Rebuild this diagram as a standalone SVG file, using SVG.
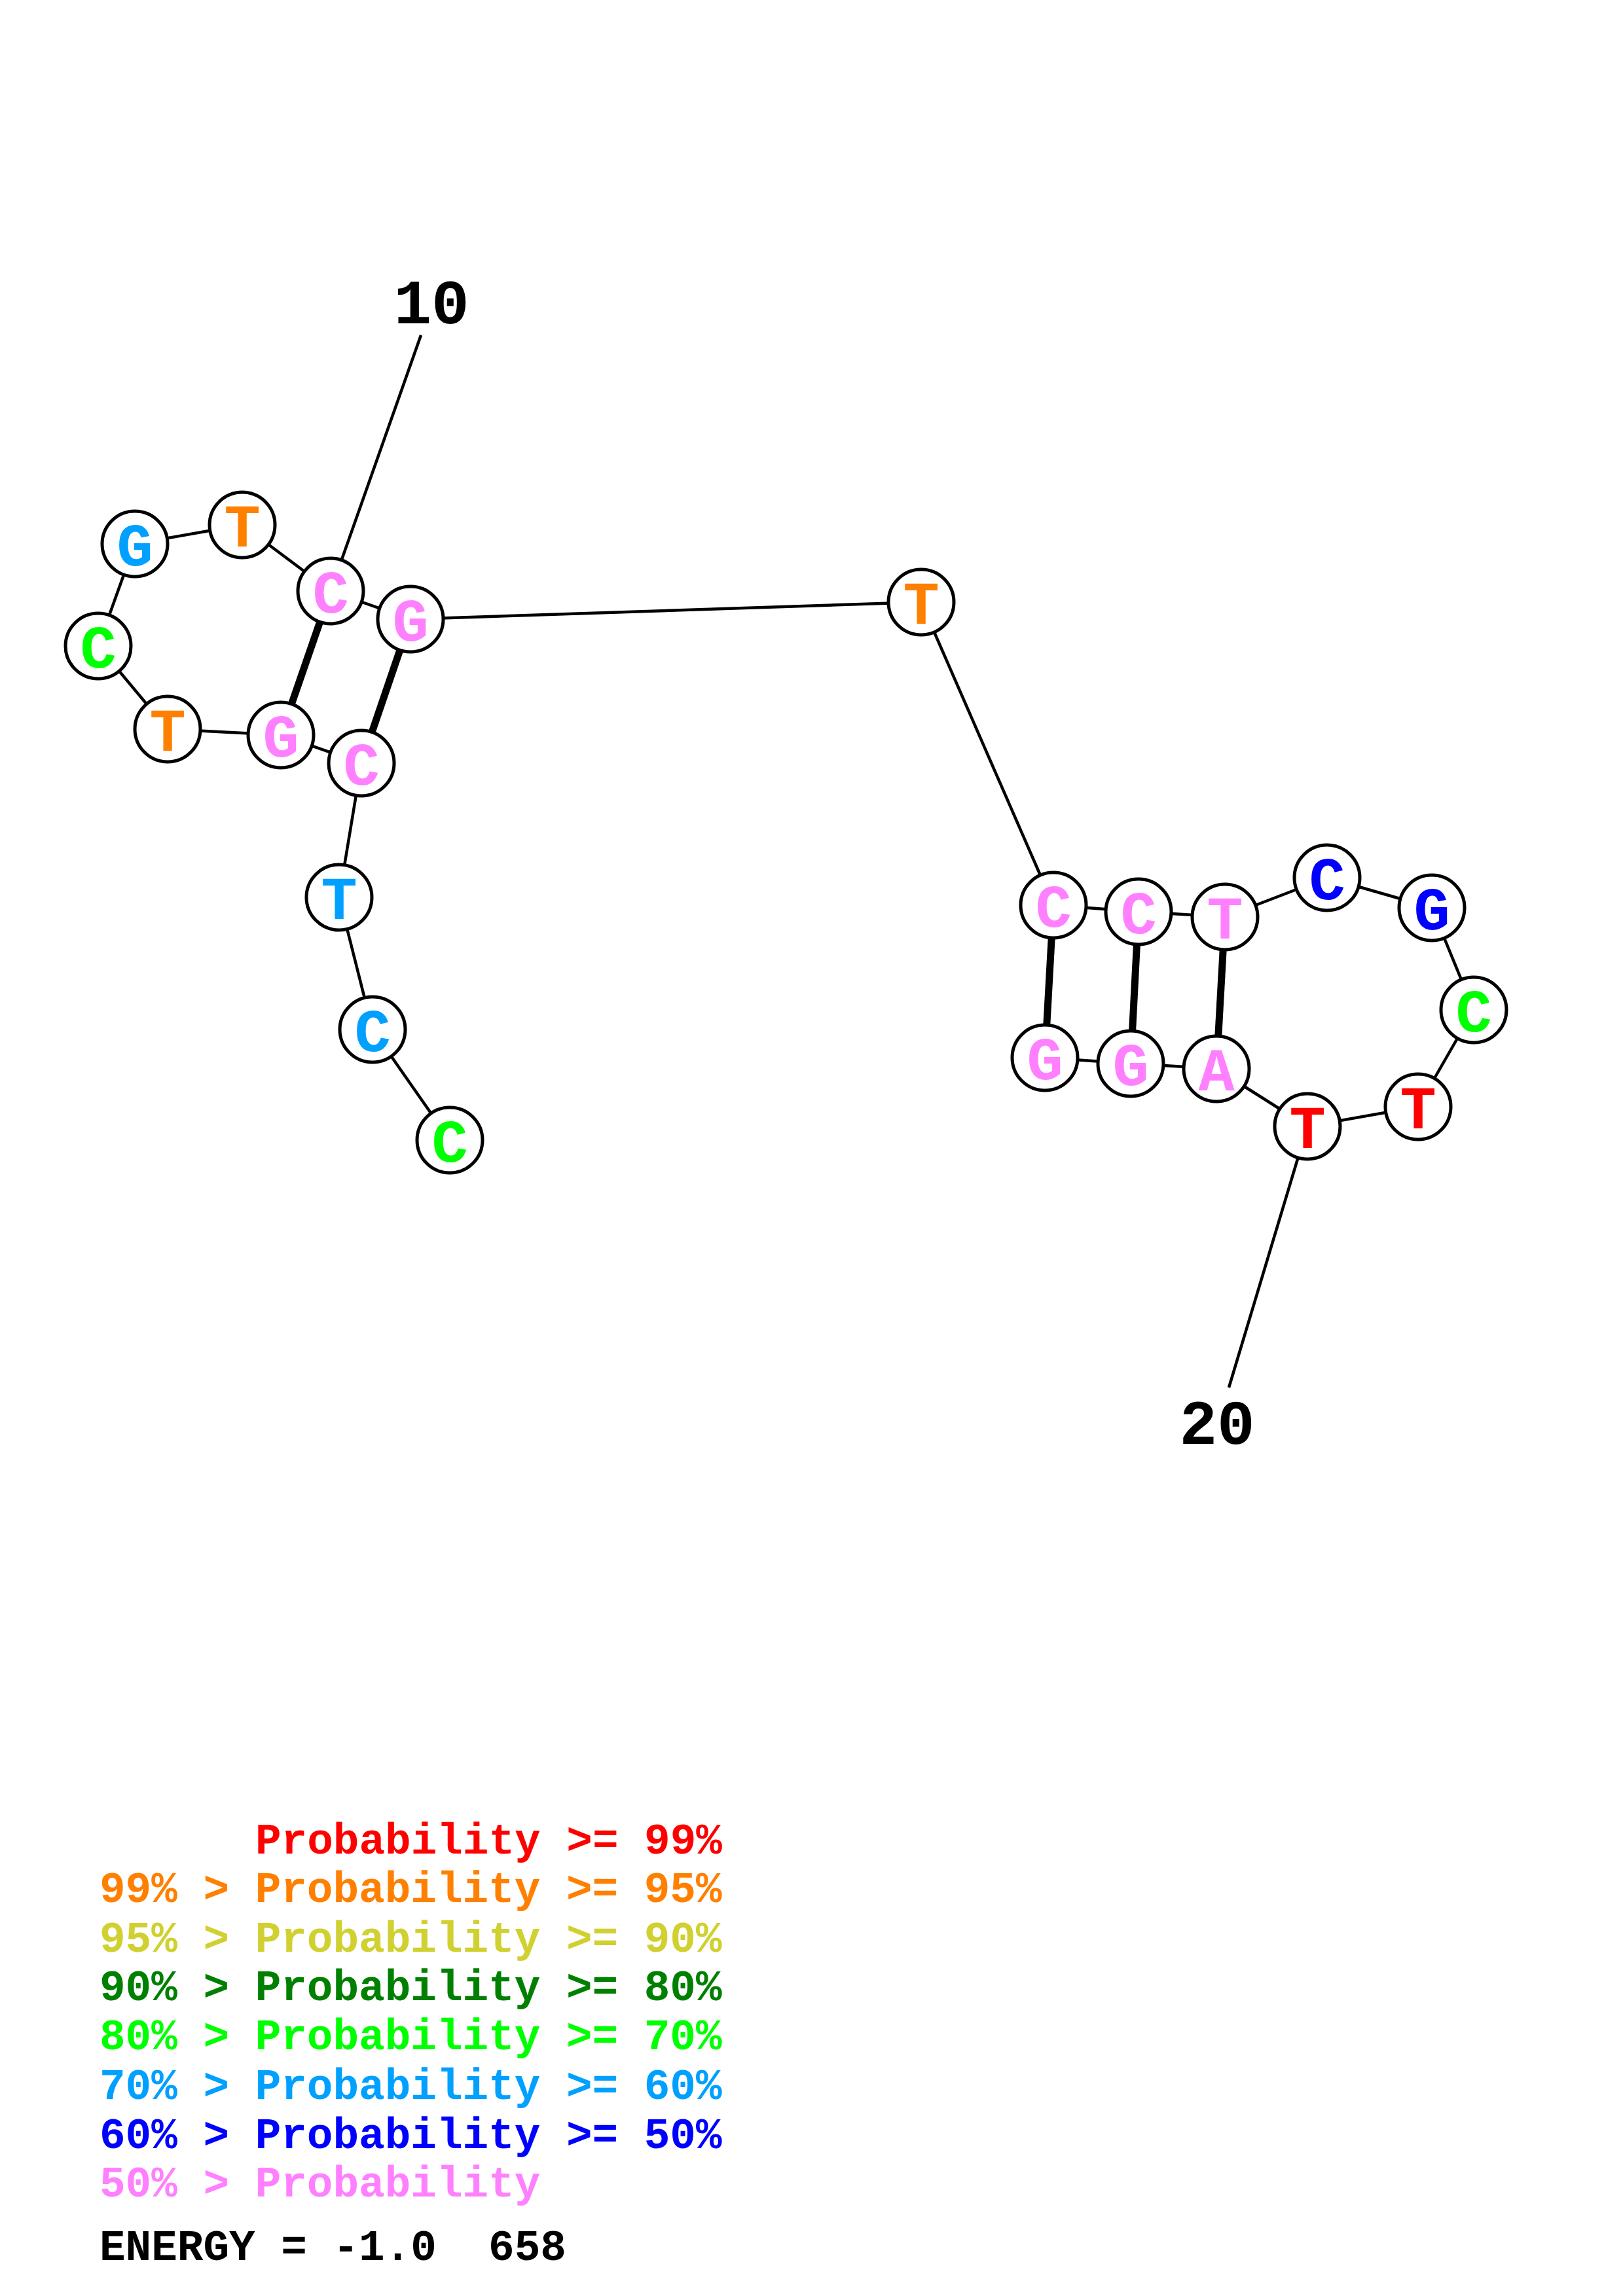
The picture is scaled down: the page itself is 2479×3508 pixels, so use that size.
<svg xmlns="http://www.w3.org/2000/svg" width="2479" height="3508" viewBox="0 0 2479 3508">
<style>
.bb{stroke:#000;stroke-width:4.5;fill:none}
.bp{stroke:#000;stroke-width:11}
.nd{fill:#fff;stroke:#000;stroke-width:5}
.nt{font-family:"Liberation Mono",monospace;font-weight:bold;font-size:92px;text-anchor:middle}
.lbl{font-family:"Liberation Mono",monospace;font-weight:bold;font-size:96px;text-anchor:middle;fill:#000}
.lg{font-family:"Liberation Mono",monospace;font-weight:bold;font-size:66px}
.red{fill:#FF0000}.org{fill:#FF8000}.yel{fill:#D0D030}.dgr{fill:#008000}.grn{fill:#00FF00}.lbu{fill:#00A0FF}.blu{fill:#0000FF}.pnk{fill:#FF80FF}.blk{fill:#000}
</style>
<rect width="2479" height="3508" fill="#fff"/>
<g id="connectors">
<line class="bb" x1="643" y1="512" x2="505" y2="903"/>
<line class="bb" x1="1877" y1="2120" x2="1997" y2="1721"/>
<line class="bb" x1="687" y1="1742" x2="569" y2="1573"/>
<line class="bb" x1="569" y1="1573" x2="518" y2="1371"/>
<line class="bb" x1="518" y1="1371" x2="552" y2="1166"/>
<line class="bb" x1="552" y1="1166" x2="429" y2="1123"/>
<line class="bb" x1="429" y1="1123" x2="256" y2="1114"/>
<line class="bb" x1="256" y1="1114" x2="150" y2="987"/>
<line class="bb" x1="150" y1="987" x2="206" y2="831"/>
<line class="bb" x1="206" y1="831" x2="370" y2="802"/>
<line class="bb" x1="370" y1="802" x2="505" y2="903"/>
<line class="bb" x1="505" y1="903" x2="627" y2="946"/>
<line class="bb" x1="627" y1="946" x2="1407" y2="920"/>
<line class="bb" x1="1407" y1="920" x2="1609" y2="1383"/>
<line class="bb" x1="1609" y1="1383" x2="1739" y2="1393"/>
<line class="bb" x1="1739" y1="1393" x2="1871" y2="1401"/>
<line class="bb" x1="1871" y1="1401" x2="2027" y2="1341"/>
<line class="bb" x1="2027" y1="1341" x2="2187" y2="1387"/>
<line class="bb" x1="2187" y1="1387" x2="2251" y2="1543"/>
<line class="bb" x1="2251" y1="1543" x2="2166" y2="1691"/>
<line class="bb" x1="2166" y1="1691" x2="1997" y2="1721"/>
<line class="bb" x1="1997" y1="1721" x2="1858" y2="1633"/>
<line class="bb" x1="1858" y1="1633" x2="1727" y2="1625"/>
<line class="bb" x1="1727" y1="1625" x2="1596" y2="1616"/>
<line class="bp" x1="505" y1="903" x2="429" y2="1123"/>
<line class="bp" x1="627" y1="946" x2="552" y2="1166"/>
<line class="bp" x1="1609" y1="1383" x2="1596" y2="1616"/>
<line class="bp" x1="1739" y1="1393" x2="1727" y2="1625"/>
<line class="bp" x1="1871" y1="1401" x2="1858" y2="1633"/>
</g>
<g id="n1"><circle class="nd" cx="687" cy="1742" r="50"/><text class="nt grn" x="687" y="1775">C</text></g>
<g id="n2"><circle class="nd" cx="569" cy="1573" r="50"/><text class="nt lbu" x="569" y="1606">C</text></g>
<g id="n3"><circle class="nd" cx="518" cy="1371" r="50"/><text class="nt lbu" x="518" y="1404">T</text></g>
<g id="n4"><circle class="nd" cx="552" cy="1166" r="50"/><text class="nt pnk" x="552" y="1199">C</text></g>
<g id="n5"><circle class="nd" cx="429" cy="1123" r="50"/><text class="nt pnk" x="429" y="1156">G</text></g>
<g id="n6"><circle class="nd" cx="256" cy="1114" r="50"/><text class="nt org" x="256" y="1147">T</text></g>
<g id="n7"><circle class="nd" cx="150" cy="987" r="50"/><text class="nt grn" x="150" y="1020">C</text></g>
<g id="n8"><circle class="nd" cx="206" cy="831" r="50"/><text class="nt lbu" x="206" y="864">G</text></g>
<g id="n9"><circle class="nd" cx="370" cy="802" r="50"/><text class="nt org" x="370" y="835">T</text></g>
<g id="n10"><circle class="nd" cx="505" cy="903" r="50"/><text class="nt pnk" x="505" y="936">C</text></g>
<g id="n11"><circle class="nd" cx="627" cy="946" r="50"/><text class="nt pnk" x="627" y="979">G</text></g>
<g id="n12"><circle class="nd" cx="1407" cy="920" r="50"/><text class="nt org" x="1407" y="953">T</text></g>
<g id="n13"><circle class="nd" cx="1609" cy="1383" r="50"/><text class="nt pnk" x="1609" y="1416">C</text></g>
<g id="n14"><circle class="nd" cx="1739" cy="1393" r="50"/><text class="nt pnk" x="1739" y="1426">C</text></g>
<g id="n15"><circle class="nd" cx="1871" cy="1401" r="50"/><text class="nt pnk" x="1871" y="1434">T</text></g>
<g id="n16"><circle class="nd" cx="2027" cy="1341" r="50"/><text class="nt blu" x="2027" y="1374">C</text></g>
<g id="n17"><circle class="nd" cx="2187" cy="1387" r="50"/><text class="nt blu" x="2187" y="1420">G</text></g>
<g id="n18"><circle class="nd" cx="2251" cy="1543" r="50"/><text class="nt grn" x="2251" y="1576">C</text></g>
<g id="n19"><circle class="nd" cx="2166" cy="1691" r="50"/><text class="nt red" x="2166" y="1724">T</text></g>
<g id="n20"><circle class="nd" cx="1997" cy="1721" r="50"/><text class="nt red" x="1997" y="1754">T</text></g>
<g id="n21"><circle class="nd" cx="1858" cy="1633" r="50"/><text class="nt pnk" x="1858" y="1666">A</text></g>
<g id="n22"><circle class="nd" cx="1727" cy="1625" r="50"/><text class="nt pnk" x="1727" y="1658">G</text></g>
<g id="n23"><circle class="nd" cx="1596" cy="1616" r="50"/><text class="nt pnk" x="1596" y="1649">G</text></g>
<g id="labels">
<text class="lbl" x="659" y="494">10</text>
<text class="lbl" x="1859" y="2206">20</text>
</g>
<g id="legend">
<text class="lg red" x="390" y="2832">Probability &gt;= 99%</text>
<text class="lg org" x="152" y="2906">99% &gt; Probability &gt;= 95%</text>
<text class="lg yel" x="152" y="2982">95% &gt; Probability &gt;= 90%</text>
<text class="lg dgr" x="152" y="3056">90% &gt; Probability &gt;= 80%</text>
<text class="lg grn" x="152" y="3131">80% &gt; Probability &gt;= 70%</text>
<text class="lg lbu" x="152" y="3207">70% &gt; Probability &gt;= 60%</text>
<text class="lg blu" x="152" y="3282">60% &gt; Probability &gt;= 50%</text>
<text class="lg pnk" x="152" y="3356">50% &gt; Probability</text>
<text class="lg blk" x="152" y="3453" xml:space="preserve">ENERGY = -1.0  658</text>
</g>
</svg>
